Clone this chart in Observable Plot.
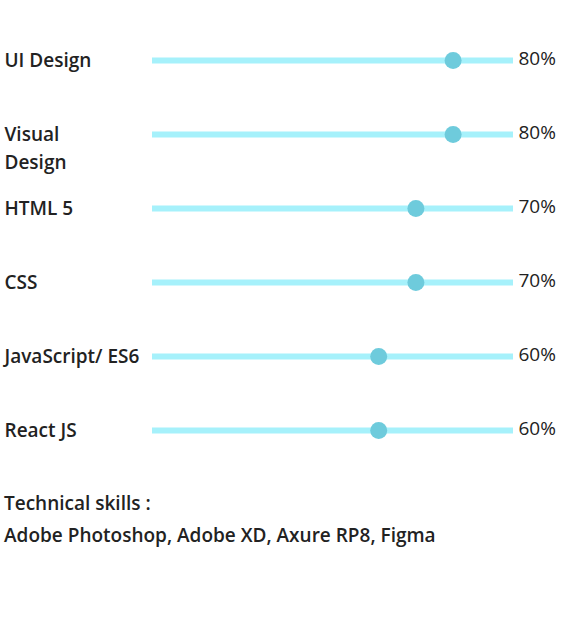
<!DOCTYPE html>
<html>
<head>
<meta charset="utf-8">
<script src="https://cdn.jsdelivr.net/npm/d3@7"></script>
<script src="https://cdn.jsdelivr.net/npm/@observablehq/plot@0.6"></script>
<style>
  html, body { margin: 0; padding: 0; background: #fff; }
  body { width: 563px; font-family: "Open Sans", sans-serif; color: #222; }
  #chart svg { display: block; }
  .skills-note { margin: 7px 0 0 4px; font-size: 19px; font-weight: 600; line-height: 32px; color: #222; }
</style>
</head>
<body>
<div id="chart"></div>
<div class="skills-note">
  <div>Technical skills :</div>
  <div>Adobe Photoshop, Adobe XD, Axure RP8, Figma</div>
</div>
<script>
const skills = ["UI Design", "Visual\nDesign", "HTML 5", "CSS", "JavaScript/ ES6", "React JS"];
const levels = [80, 80, 70, 70, 60, 60];
const pctLabels = ["80%", "80%", "70%", "70%", "60%", "60%"];

const data = skills.map((s, i) => ({skill: s, level: levels[i], pct: pctLabels[i]}));

const chart = Plot.plot({
  width: 563,
  height: 480,
  marginLeft: 152,
  marginRight: 50,
  marginTop: 0,
  marginBottom: 0,
  style: {fontFamily: "Open Sans, sans-serif", background: "#fff"},
  x: {domain: [0, 100], range: [155, 527], axis: null},
  y: {type: "point", domain: skills, range: [59, 431], padding: 0, axis: null},
  marks: [
    Plot.ruleY(data, {y: "skill", stroke: "#a6f1fb", strokeWidth: 6}),
    Plot.dot(data, {x: "level", y: "skill", r: 8.5, fill: "#6ecbdc", stroke: "none"}),
    Plot.text(data, {
      y: "skill", text: "skill", frameAnchor: "left", textAnchor: "start",
      lineAnchor: "top", dx: -148, dy: -13.8, lineHeight: 1.474,
      fontSize: 19, fontWeight: 600, fill: "#222"
    }),
    Plot.text(data, {
      y: "skill", text: "pct", frameAnchor: "right", textAnchor: "start",
      dx: 5, dy: -2, fontSize: 19, fontWeight: 500, fill: "#222"
    })
  ]
});
document.getElementById("chart").appendChild(chart);
</script>
</body>
</html>
